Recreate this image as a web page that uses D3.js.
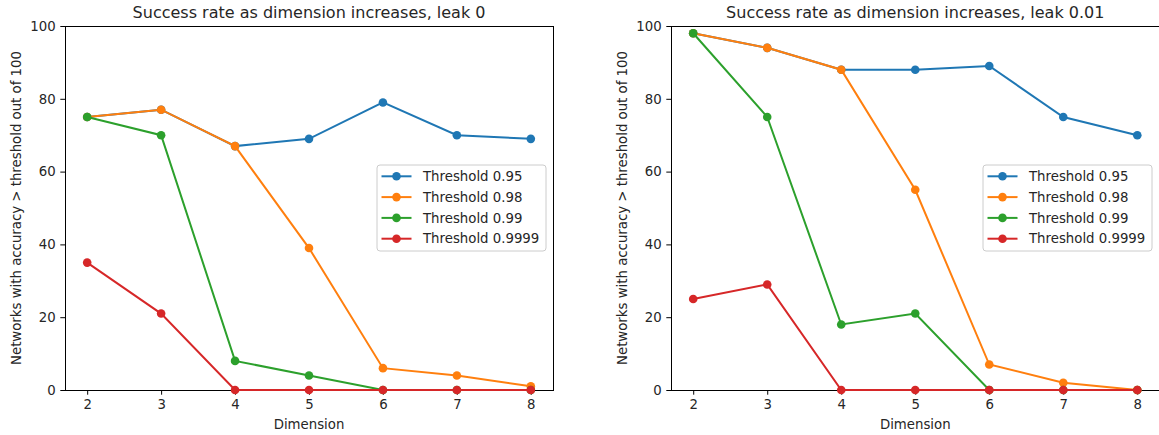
<!DOCTYPE html>
<html>
<head>
<meta charset="utf-8">
<script src="https://cdn.jsdelivr.net/npm/d3@7"></script>
<style>
  html, body { margin: 0; padding: 0; background: #fff; }
  svg { display: block; font-family: "DejaVu Sans", sans-serif; }
</style>
</head>
<body>
<svg id="chart" width="1159" height="435"></svg>
<script>
// Dimensions tested and the accuracy thresholds (one line per threshold)
const dimensions = [2, 3, 4, 5, 6, 7, 8];
const seriesNames = ["Threshold 0.95", "Threshold 0.98", "Threshold 0.99", "Threshold 0.9999"];
const seriesColors = ["#1f77b4", "#ff7f0e", "#2ca02c", "#d62728"];
const yTicks = [0, 20, 40, 60, 80, 100];

// Leak 0: networks (out of 100) above each threshold
const leak0_t095 = [75, 77, 67, 69, 79, 70, 69];
const leak0_t098 = [75, 77, 67, 39, 6, 4, 1];
const leak0_t099 = [75, 70, 8, 4, 0, 0, 0];
const leak0_t9999 = [35, 21, 0, 0, 0, 0, 0];

// Leak 0.01
const leak001_t095 = [98, 94, 88, 88, 89, 75, 70];
const leak001_t098 = [98, 94, 88, 55, 7, 2, 0];
const leak001_t099 = [98, 75, 18, 21, 0, 0, 0];
const leak001_t9999 = [25, 29, 0, 0, 0, 0, 0];

const panels = [
  { title: "Success rate as dimension increases, leak 0",
    series: [leak0_t095, leak0_t098, leak0_t099, leak0_t9999],
    left: 65, right: 553 },
  { title: "Success rate as dimension increases, leak 0.01",
    series: [leak001_t095, leak001_t098, leak001_t099, leak001_t9999],
    left: 671, right: 1159.5 }
];

const plotTop = 26, plotBottom = 390;
const fs = 13.3, titleFs = 16, tickLen = 4.7;
const textColor = "#262626";
const svg = d3.select("#chart");

panels.forEach(p => {
  const x = d3.scaleLinear().domain([1.7, 8.3]).range([p.left, p.right]);
  const y = d3.scaleLinear().domain([0, 100]).range([plotBottom, plotTop]);
  const g = svg.append("g");

  // plot area frame
  g.append("rect")
    .attr("x", p.left).attr("y", plotTop)
    .attr("width", p.right - p.left).attr("height", plotBottom - plotTop)
    .attr("fill", "none").attr("stroke", "#000").attr("stroke-width", 1)
    .attr("shape-rendering", "crispEdges");

  // axes
  const xAxis = g.append("g").attr("transform", `translate(0,${plotBottom})`)
    .call(d3.axisBottom(x).tickValues(dimensions).tickFormat(d3.format("d"))
      .tickSize(tickLen).tickPadding(4.7));
  const yAxis = g.append("g").attr("transform", `translate(${p.left},0)`)
    .call(d3.axisLeft(y).tickValues(yTicks).tickFormat(d3.format("d"))
      .tickSize(tickLen).tickPadding(4.7));
  [xAxis, yAxis].forEach(a => {
    a.select(".domain").remove();
    a.selectAll(".tick line").attr("stroke", "#000").attr("stroke-width", 1);
    a.selectAll(".tick text").attr("font-size", fs).attr("fill", textColor)
      .attr("font-family", "DejaVu Sans");
  });

  // titles and labels
  g.append("text")
    .attr("x", (p.left + p.right) / 2)
    .attr("y", 18).attr("text-anchor", "middle")
    .attr("font-size", titleFs).attr("fill", textColor).text(p.title);
  g.append("text")
    .attr("x", (p.left + p.right) / 2).attr("y", 429)
    .attr("text-anchor", "middle").attr("font-size", fs).attr("fill", textColor)
    .text("Dimension");
  g.append("text")
    .attr("transform", `translate(${p.left - 44},${(plotTop + plotBottom) / 2}) rotate(-90)`)
    .attr("text-anchor", "middle").attr("font-size", fs).attr("fill", textColor)
    .text("Networks with accuracy > threshold out of 100");

  // series lines and markers
  const line = d3.line().x((d, i) => x(dimensions[i])).y(d => y(d));
  p.series.forEach((vals, k) => {
    const s = g.append("g");
    s.append("path").datum(vals).attr("d", line)
      .attr("fill", "none").attr("stroke", seriesColors[k]).attr("stroke-width", 2);
    s.selectAll("circle").data(vals).join("circle")
      .attr("cx", (d, i) => x(dimensions[i])).attr("cy", d => y(d))
      .attr("r", 4.3).attr("fill", seriesColors[k]);
  });

  // legend, centred vertically on the right side of the plot area
  const axRight = Math.min(p.right, 1159);
  const lw = 169, lh = 86;
  const lx = axRight - 7 - lw, ly = (plotTop + plotBottom) / 2 - lh / 2;
  const lg = g.append("g").attr("transform", `translate(${lx},${ly})`);
  lg.append("rect").attr("width", lw).attr("height", lh).attr("rx", 3)
    .attr("fill", "#fff").attr("fill-opacity", 0.8)
    .attr("stroke", "#cccccc").attr("stroke-width", 1);
  seriesNames.forEach((name, k) => {
    const cy = 11.3 + k * 20.8;
    lg.append("line").attr("x1", 4.5).attr("x2", 34.5).attr("y1", cy).attr("y2", cy)
      .attr("stroke", seriesColors[k]).attr("stroke-width", 2);
    lg.append("circle").attr("cx", 19.5).attr("cy", cy).attr("r", 4.3)
      .attr("fill", seriesColors[k]);
    lg.append("text").attr("x", 46).attr("y", cy).attr("dy", "0.36em")
      .attr("font-size", fs).attr("fill", textColor).text(name);
  });
});
</script>
</body>
</html>
